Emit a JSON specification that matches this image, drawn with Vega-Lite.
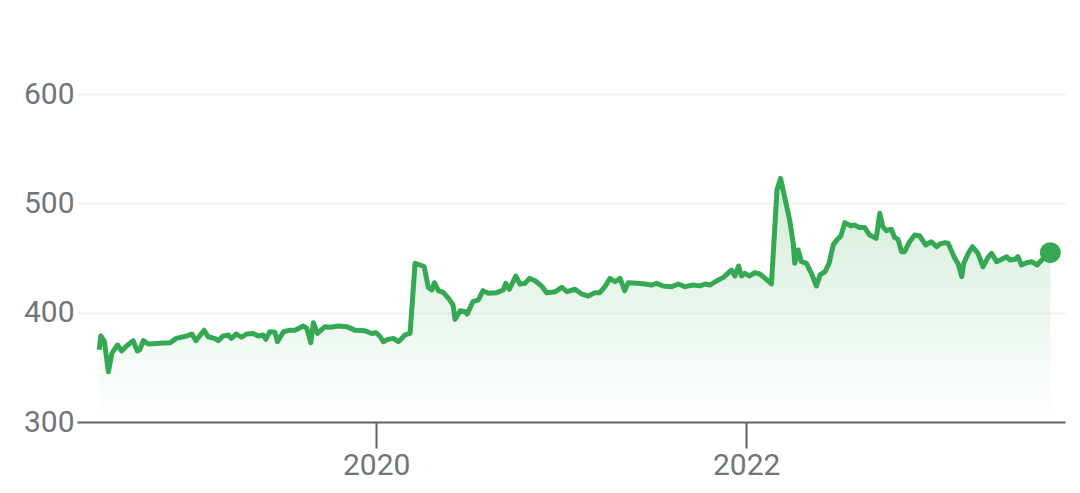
{
  "$schema": "https://vega.github.io/schema/vega-lite/v6.json",
  "width": 988,
  "height": 328,
  "autosize": {"type": "none"},
  "padding": {"left": 77, "top": 94, "right": 15, "bottom": 71},
  "background": "#ffffff",
  "config": {"view": {"stroke": null}, "font": "Roboto"},
  "data": {"values": [
    {"date": "2018-07-03", "price": 366},
    {"date": "2018-07-06", "price": 378.7},
    {"date": "2018-07-13", "price": 374},
    {"date": "2018-07-21", "price": 346},
    {"date": "2018-07-28", "price": 363},
    {"date": "2018-08-08", "price": 370.4},
    {"date": "2018-08-16", "price": 365},
    {"date": "2018-08-26", "price": 369.5},
    {"date": "2018-09-08", "price": 374.4},
    {"date": "2018-09-16", "price": 365},
    {"date": "2018-09-21", "price": 366},
    {"date": "2018-09-28", "price": 374.4},
    {"date": "2018-10-08", "price": 371.3},
    {"date": "2018-10-31", "price": 372},
    {"date": "2018-11-20", "price": 372.5},
    {"date": "2018-12-02", "price": 376.5},
    {"date": "2018-12-23", "price": 378.7},
    {"date": "2019-01-02", "price": 380.5},
    {"date": "2019-01-10", "price": 374.4},
    {"date": "2019-01-26", "price": 384},
    {"date": "2019-02-03", "price": 378},
    {"date": "2019-02-16", "price": 376.5},
    {"date": "2019-02-23", "price": 374.4},
    {"date": "2019-03-05", "price": 378.7},
    {"date": "2019-03-15", "price": 379.6},
    {"date": "2019-03-21", "price": 376.5},
    {"date": "2019-03-31", "price": 380.5},
    {"date": "2019-04-10", "price": 377.5},
    {"date": "2019-04-20", "price": 380.5},
    {"date": "2019-05-03", "price": 381},
    {"date": "2019-05-13", "price": 378.7},
    {"date": "2019-05-23", "price": 379.6},
    {"date": "2019-05-28", "price": 375.6},
    {"date": "2019-06-05", "price": 382.6},
    {"date": "2019-06-15", "price": 382},
    {"date": "2019-06-20", "price": 373.5},
    {"date": "2019-07-02", "price": 382.6},
    {"date": "2019-07-15", "price": 384},
    {"date": "2019-07-25", "price": 384},
    {"date": "2019-08-10", "price": 387.8},
    {"date": "2019-08-17", "price": 385.7},
    {"date": "2019-08-25", "price": 372.5},
    {"date": "2019-08-30", "price": 390.8},
    {"date": "2019-09-07", "price": 381},
    {"date": "2019-09-22", "price": 387.2},
    {"date": "2019-10-02", "price": 386.6},
    {"date": "2019-10-18", "price": 387.8},
    {"date": "2019-11-04", "price": 387.2},
    {"date": "2019-11-20", "price": 384},
    {"date": "2019-12-10", "price": 383.5},
    {"date": "2019-12-23", "price": 381},
    {"date": "2020-01-01", "price": 381.7},
    {"date": "2020-01-09", "price": 378},
    {"date": "2020-01-15", "price": 373.5},
    {"date": "2020-01-25", "price": 375.6},
    {"date": "2020-02-04", "price": 376.5},
    {"date": "2020-02-14", "price": 373.5},
    {"date": "2020-02-27", "price": 379.6},
    {"date": "2020-03-08", "price": 381},
    {"date": "2020-03-18", "price": 445.2},
    {"date": "2020-03-28", "price": 443.6},
    {"date": "2020-04-05", "price": 442},
    {"date": "2020-04-13", "price": 423.2},
    {"date": "2020-04-20", "price": 420.7},
    {"date": "2020-04-25", "price": 427.4},
    {"date": "2020-05-03", "price": 420.1},
    {"date": "2020-05-13", "price": 418.3},
    {"date": "2020-05-23", "price": 413.1},
    {"date": "2020-06-01", "price": 407},
    {"date": "2020-06-05", "price": 393.9},
    {"date": "2020-06-15", "price": 401.8},
    {"date": "2020-06-25", "price": 400.9},
    {"date": "2020-06-29", "price": 398.8},
    {"date": "2020-07-10", "price": 410},
    {"date": "2020-07-21", "price": 411.6},
    {"date": "2020-07-30", "price": 420.1},
    {"date": "2020-08-10", "price": 417.7},
    {"date": "2020-08-26", "price": 418.3},
    {"date": "2020-09-08", "price": 420.7},
    {"date": "2020-09-13", "price": 426.8},
    {"date": "2020-09-20", "price": 421.4},
    {"date": "2020-10-03", "price": 433.5},
    {"date": "2020-10-11", "price": 426.2},
    {"date": "2020-10-21", "price": 426.8},
    {"date": "2020-10-30", "price": 431.4},
    {"date": "2020-11-10", "price": 429.2},
    {"date": "2020-11-23", "price": 424.4},
    {"date": "2020-12-03", "price": 418.3},
    {"date": "2020-12-20", "price": 419.2},
    {"date": "2021-01-02", "price": 423.2},
    {"date": "2021-01-12", "price": 419.2},
    {"date": "2021-01-28", "price": 421.4},
    {"date": "2021-02-10", "price": 417.1},
    {"date": "2021-02-23", "price": 415.2},
    {"date": "2021-03-08", "price": 418.3},
    {"date": "2021-03-18", "price": 418.3},
    {"date": "2021-03-28", "price": 423.8},
    {"date": "2021-04-07", "price": 431.4},
    {"date": "2021-04-17", "price": 428.3},
    {"date": "2021-04-27", "price": 431.4},
    {"date": "2021-05-06", "price": 420.1},
    {"date": "2021-05-13", "price": 427.4},
    {"date": "2021-05-30", "price": 426.8},
    {"date": "2021-06-15", "price": 426.2},
    {"date": "2021-06-28", "price": 425.3},
    {"date": "2021-07-08", "price": 426.8},
    {"date": "2021-07-21", "price": 424.4},
    {"date": "2021-08-07", "price": 423.8},
    {"date": "2021-08-20", "price": 426.2},
    {"date": "2021-09-02", "price": 423.8},
    {"date": "2021-09-18", "price": 425.3},
    {"date": "2021-10-02", "price": 424.5},
    {"date": "2021-10-12", "price": 426.2},
    {"date": "2021-10-22", "price": 425.3},
    {"date": "2021-11-04", "price": 429.2},
    {"date": "2021-11-17", "price": 432.3},
    {"date": "2021-12-03", "price": 439},
    {"date": "2021-12-10", "price": 433.5},
    {"date": "2021-12-17", "price": 442.7},
    {"date": "2021-12-23", "price": 433.5},
    {"date": "2021-12-30", "price": 436},
    {"date": "2022-01-07", "price": 433.5},
    {"date": "2022-01-18", "price": 436.6},
    {"date": "2022-01-28", "price": 435.4},
    {"date": "2022-02-10", "price": 430.5},
    {"date": "2022-02-20", "price": 426.2},
    {"date": "2022-03-03", "price": 512.2},
    {"date": "2022-03-10", "price": 522.9},
    {"date": "2022-03-18", "price": 506.1},
    {"date": "2022-03-28", "price": 484.8},
    {"date": "2022-04-04", "price": 463.5},
    {"date": "2022-04-07", "price": 445.2},
    {"date": "2022-04-14", "price": 457.3},
    {"date": "2022-04-20", "price": 446.6},
    {"date": "2022-04-30", "price": 445.2},
    {"date": "2022-05-10", "price": 436},
    {"date": "2022-05-20", "price": 424.4},
    {"date": "2022-05-27", "price": 434.5},
    {"date": "2022-06-06", "price": 437.5},
    {"date": "2022-06-14", "price": 445.2},
    {"date": "2022-06-22", "price": 461.9},
    {"date": "2022-06-29", "price": 466.5},
    {"date": "2022-07-07", "price": 470},
    {"date": "2022-07-15", "price": 482.3},
    {"date": "2022-07-28", "price": 479.3},
    {"date": "2022-08-03", "price": 480.2},
    {"date": "2022-08-13", "price": 478},
    {"date": "2022-08-23", "price": 478},
    {"date": "2022-09-02", "price": 471},
    {"date": "2022-09-15", "price": 468},
    {"date": "2022-09-22", "price": 490.9},
    {"date": "2022-09-28", "price": 478.7},
    {"date": "2022-10-05", "price": 475},
    {"date": "2022-10-15", "price": 476.3},
    {"date": "2022-10-21", "price": 469},
    {"date": "2022-10-28", "price": 467.1},
    {"date": "2022-11-04", "price": 455.8},
    {"date": "2022-11-10", "price": 455.8},
    {"date": "2022-11-20", "price": 464.9},
    {"date": "2022-11-30", "price": 471},
    {"date": "2022-12-10", "price": 470.1},
    {"date": "2022-12-22", "price": 461.9},
    {"date": "2023-01-02", "price": 464.9},
    {"date": "2023-01-12", "price": 460.3},
    {"date": "2023-01-19", "price": 462.8},
    {"date": "2023-01-29", "price": 464},
    {"date": "2023-02-04", "price": 463.5},
    {"date": "2023-02-17", "price": 450},
    {"date": "2023-02-24", "price": 444.5},
    {"date": "2023-03-03", "price": 432.9},
    {"date": "2023-03-07", "price": 445.2},
    {"date": "2023-03-16", "price": 454.3},
    {"date": "2023-03-24", "price": 460.3},
    {"date": "2023-04-04", "price": 454.3},
    {"date": "2023-04-14", "price": 442},
    {"date": "2023-04-24", "price": 450.6},
    {"date": "2023-05-01", "price": 454.3},
    {"date": "2023-05-11", "price": 446.6},
    {"date": "2023-05-21", "price": 448.8},
    {"date": "2023-05-31", "price": 451.2},
    {"date": "2023-06-06", "price": 448.2},
    {"date": "2023-06-16", "price": 448.8},
    {"date": "2023-06-22", "price": 451.2},
    {"date": "2023-06-29", "price": 443.6},
    {"date": "2023-07-09", "price": 445.7},
    {"date": "2023-07-19", "price": 446.6},
    {"date": "2023-07-30", "price": 443.6},
    {"date": "2023-08-11", "price": 449.7},
    {"date": "2023-08-25", "price": 454.9}
  ]},
  "encoding": {
    "x": {
      "field": "date",
      "type": "temporal",
      "scale": {"domain": ["2018-05-20", "2023-09-23"]},
      "axis": {
        "title": null,
        "values": ["2020-01-01", "2022-01-01"],
        "format": "%Y",
        "grid": false,
        "domain": true,
        "domainColor": "#5f6368",
        "domainWidth": 2,
        "ticks": true,
        "tickColor": "#5f6368",
        "tickWidth": 2,
        "tickSize": 26,
        "labelFontSize": 30,
        "labelColor": "#70757a",
        "labelPadding": 2,
        "labelFont": "Roboto"
      }
    },
    "y": {
      "field": "price",
      "type": "quantitative",
      "scale": {"domain": [300, 600], "nice": false, "zero": false},
      "axis": {
        "title": null,
        "values": [300, 400, 500, 600],
        "domain": false,
        "ticks": false,
        "grid": true,
        "gridColor": "#f1f1f1",
        "gridWidth": 2,
        "labelFontSize": 30,
        "labelColor": "#70757a",
        "labelPadding": 3,
        "labelFont": "Roboto"
      }
    }
  },
  "layer": [
    {
      "mark": {
        "type": "area",
        "color": {
          "gradient": "linear",
          "x1": 0, "y1": 0, "x2": 0, "y2": 1,
          "stops": [
            {"offset": 0, "color": "rgba(52,168,83,0.22)"},
            {"offset": 1, "color": "rgba(52,168,83,0.0)"}
          ]
        }
      },
      "encoding": {"y2": {"datum": 300}}
    },
    {
      "mark": {"type": "line", "color": "#34a853", "strokeWidth": 5, "strokeJoin": "round"}
    },
    {
      "transform": [{"filter": "datum.price == 454.9"}],
      "mark": {"type": "point", "filled": true, "color": "#34a853", "size": 440, "opacity": 1}
    }
  ]
}
